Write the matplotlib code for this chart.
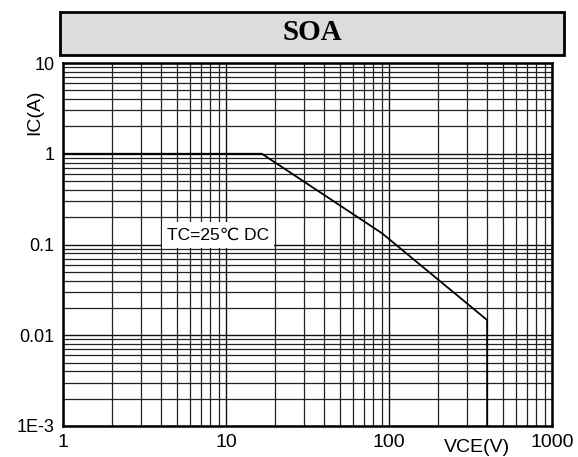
import matplotlib
matplotlib.use("Agg")
import matplotlib.pyplot as plt
from matplotlib.patches import Rectangle
import numpy as np

# Data
vce = [1, 16.6, 90.6, 400, 400]
ic = [1, 1, 0.133, 0.0147, 0.001]
xticks = [1, 10, 100, 1000]
xticklabels = ["1", "10", "100", "1000"]
yticks = [0.001, 0.01, 0.1, 1, 10]
yticklabels = ["1E-3", "0.01", "0.1", "1", "10"]
title = "SOA"
xlabel = "VCE(V)"
ylabel = "IC(A)"
note = "TC=25\u2103 DC"

W, H = 578, 457
fig = plt.figure(figsize=(W / 100, H / 100), dpi=100)
fig.patch.set_facecolor("white")
SANS = ["Liberation Sans", "DejaVu Sans"]

def fx(px):
    return px / W

def fy(py):
    return 1 - py / H

ax = fig.add_axes([fx(63), fy(426), fx(552) - fx(63), fy(63) - fy(426)])
ax.set_xscale("log")
ax.set_yscale("log")
ax.set_xlim(1, 1000)
ax.set_ylim(0.001, 10)

ax.set_xticks(xticks)
ax.set_xticklabels(xticklabels)
ax.set_yticks(yticks)
ax.set_yticklabels(yticklabels)
ax.xaxis.set_minor_locator(matplotlib.ticker.LogLocator(base=10, subs=np.arange(2, 10)))
ax.yaxis.set_minor_locator(matplotlib.ticker.LogLocator(base=10, subs=np.arange(2, 10)))
ax.xaxis.set_minor_formatter(matplotlib.ticker.NullFormatter())
ax.yaxis.set_minor_formatter(matplotlib.ticker.NullFormatter())
ax.tick_params(which="both", length=0)
ax.tick_params(axis="y", pad=6, labelsize=13)
ax.tick_params(axis="x", pad=6, labelsize=14)
for lab in ax.get_xticklabels() + ax.get_yticklabels():
    lab.set_fontfamily(SANS)

ax.grid(True, which="major", color="#111111", lw=1.0)
ax.grid(True, which="minor", color="#222222", lw=0.9)
ax.set_axisbelow(True)
for s in ax.spines.values():
    s.set_linewidth(1.8)
    s.set_color("black")

ax.plot(vce, ic, color="black", lw=1.3, zorder=3)

fig.text(fx(167), fy(235), note, fontsize=12.5, ha="left", va="center",
         family=SANS, zorder=5,
         bbox=dict(boxstyle="square,pad=0.3", fc="white", ec="none"))

fig.text(fx(477), fy(447), xlabel, fontsize=14, ha="center", va="center",
         family=SANS)
fig.text(fx(35), fy(112), ylabel, fontsize=14, ha="center", va="center",
         rotation=90, family=SANS)

# Title box
fig.patches.append(Rectangle((fx(60), fy(55)), fx(564) - fx(60), fy(12) - fy(55),
                             transform=fig.transFigure, fc="#dcdcdc", ec="black",
                             lw=2.0, zorder=1))
fig.text((fx(60) + fx(564)) / 2, (fy(12) + fy(55)) / 2 + 0.003, title, fontsize=21,
         fontweight="bold", family=["Liberation Serif", "DejaVu Serif"],
         ha="center", va="center")

fig.savefig("out.png", dpi=100, facecolor="white")
